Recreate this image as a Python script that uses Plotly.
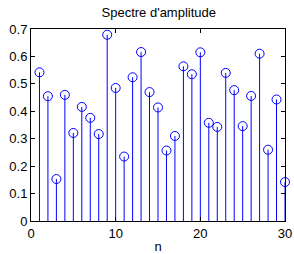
import plotly.graph_objects as go

n = list(range(1, 31))
amplitude = [0.542, 0.455, 0.153, 0.460, 0.321, 0.416, 0.376, 0.317, 0.679, 0.485,
             0.235, 0.524, 0.616, 0.470, 0.414, 0.257, 0.310, 0.564, 0.535, 0.615,
             0.358, 0.343, 0.540, 0.477, 0.346, 0.456, 0.610, 0.260, 0.443, 0.142]
x_ticks = [0, 10, 20, 30]
y_ticks = [0, 0.1, 0.2, 0.3, 0.4, 0.5, 0.6, 0.7]

stem_x, stem_y = [], []
for xi, yi in zip(n, amplitude):
    stem_x += [xi, xi, None]
    stem_y += [0, yi, None]

fig = go.Figure()
fig.add_trace(go.Scatter(x=stem_x, y=stem_y, mode="lines", cliponaxis=False,
                         line=dict(color="#0000ff", width=1), hoverinfo="skip"))
fig.add_trace(go.Scatter(x=n, y=amplitude, mode="markers", cliponaxis=False,
                         marker=dict(symbol="circle-open", size=9,
                                     line=dict(color="#0000ff", width=1), color="#0000ff")))

font = "Liberation Sans, Arial"
axis_common = dict(showline=True, linecolor="black", linewidth=1, mirror="ticks",
                   ticks="inside", ticklen=4, tickcolor="black", showgrid=False,
                   automargin=False,
                   tickfont=dict(family=font, size=13, color="black"))
fig.update_xaxes(range=[0, 30], tickvals=x_ticks, zeroline=False,
                 title=dict(text="n", font=dict(family=font, size=13, color="black"), standoff=2),
                 **axis_common)
fig.update_yaxes(range=[0, 0.7], tickvals=y_ticks, ticktext=[str(v) for v in y_ticks],
                 zeroline=True, zerolinecolor="black", zerolinewidth=2,
                 **axis_common)
fig.update_layout(width=294, height=254, showlegend=False,
                  margin=dict(l=31, r=9, t=29, b=33, autoexpand=False),
                  plot_bgcolor="white", paper_bgcolor="white",
                  title=dict(text="Spectre d'amplitude", x=0.54, xanchor="center", y=0.95, yanchor="middle",
                             font=dict(family=font, size=13, color="black")))
fig.write_html("out.html", config={"displayModeBar": False},
               post_script="document.body.style.margin='0';document.body.style.padding='0';")
